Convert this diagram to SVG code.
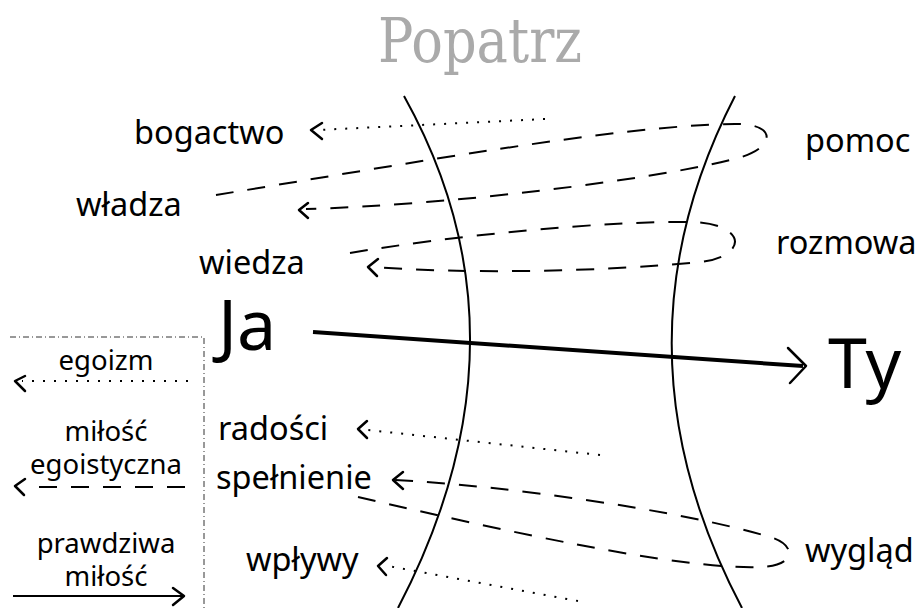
<svg xmlns="http://www.w3.org/2000/svg" width="921" height="608" viewBox="0 0 921 608">
  <style>
    .lbl { font-family: "Noto Sans", "Open Sans", sans-serif; font-size: 32.5px; fill: #000; }
    .big { font-family: "Noto Sans", "Open Sans", sans-serif; font-size: 70px; fill: #000; }
    .leg { font-family: "Noto Sans", "Open Sans", sans-serif; font-size: 27.5px; fill: #000; text-anchor: middle; }
    .title { font-family: "DejaVu Serif", "Liberation Serif", serif; font-size: 62px; fill: #aaaaaa; text-anchor: middle; }
    .wall { fill: none; stroke: #000; stroke-width: 2; }
    .dot { fill: none; stroke: #000; stroke-width: 2; stroke-dasharray: 2 9; }
    .dash { fill: none; stroke: #000; stroke-width: 2; stroke-dasharray: 18 14; }
    .solid { fill: none; stroke: #000; stroke-width: 2; }
    .head { fill: none; stroke: #000; stroke-width: 2.5; stroke-linecap: round; stroke-linejoin: round; }
    .frame { fill: none; stroke: #333; stroke-width: 1; stroke-dasharray: 6 3 1 3; }
  </style>

  <text class="title" x="480" y="62" textLength="204" lengthAdjust="spacingAndGlyphs">Popatrz</text>

  <!-- the two bent walls between Ja and Ty -->
  <g id="walls">
    <path class="wall" d="M404,96 Q539,338 398,608"/>
    <path class="wall" d="M735,96 Q605,348 742,608"/>
  </g>

  <g id="nodes">
    <g id="bogactwo"><text class="lbl" x="134" y="144">bogactwo</text></g>
    <g id="wladza"><text class="lbl" x="76" y="216">władza</text></g>
    <g id="wiedza"><text class="lbl" x="199" y="274">wiedza</text></g>
    <g id="pomoc"><text class="lbl" x="805" y="152">pomoc</text></g>
    <g id="rozmowa"><text class="lbl" x="776" y="254">rozmowa</text></g>
    <g id="ja"><text class="big" x="218" y="350">Ja</text></g>
    <g id="ty"><text class="big" x="828" y="388">Ty</text></g>
    <g id="radosci"><text class="lbl" x="218" y="440">radości</text></g>
    <g id="spelnienie"><text class="lbl" x="216" y="489">spełnienie</text></g>
    <g id="wplywy"><text class="lbl" x="246" y="571">wpływy</text></g>
    <g id="wyglad"><text class="lbl" x="805" y="562">wygląd</text></g>
  </g>

  <g id="connectors">
    <!-- Ja -> Ty -->
    <path fill="none" stroke="#000" stroke-width="4" d="M313,332 L803,366"/>
    <path class="head" stroke-width="4" d="M788,348 L806,366 L790,383"/>

    <!-- bogactwo (dotted) -->
    <path class="dot" d="M545,119 L318,130"/>
    <path class="head" d="M322,123 L311,130 L322,139"/>

    <!-- wladza -> pomoc -> back -->
    <path class="dash" d="M216,195 C400,165 620,125 735,124 C778,123 778,150 730,160 C650,180 450,205 306,209"/>
    <path class="head" d="M308,203 L299,210 L308,218"/>

    <!-- wiedza -> rozmowa -> back -->
    <path class="dash" d="M350,253 C450,236 600,221 690,222 C748,223 748,257 700,262 C600,272 460,274 376,267"/>
    <path class="head" d="M378,259 L368,267 L377,276"/>

    <!-- radosci (dotted) -->
    <path class="dot" d="M600,455 L368,430"/>
    <path class="head" d="M367,421 L358,429 L367,438"/>

    <!-- spelnienie -> wyglad -> back -->
    <path class="dash" d="M358,497 C500,530 680,570 760,567 C797,566 797,545 770,537 C680,510 500,485 394,480"/>
    <path class="head" d="M403,472 L393,480 L403,489"/>

    <!-- wplywy (dotted) -->
    <path class="dot" d="M578,601 L388,566"/>
    <path class="head" d="M387,558 L378,566 L386,575"/>
  </g>

  <!-- key -->
  <g id="legend">
    <path class="frame" d="M10,337 H204 V608"/>
    <text class="leg" x="106" y="370">egoizm</text>
    <path class="dot" d="M188,381 L22,381"/>
    <path class="head" d="M25,376 L15,381 L25,391"/>
    <text class="leg" x="106" y="441">miłość</text>
    <text class="leg" x="106" y="474">egoistyczna</text>
    <path class="dash" d="M185,487 L28,487"/>
    <path class="head" d="M25,479 L15,486 L24,495"/>
    <text class="leg" x="106" y="553">prawdziwa</text>
    <text class="leg" x="106" y="586">miłość</text>
    <path class="solid" d="M13,596 L184,596"/>
    <path class="head" d="M173,588 L184,596 L173,605"/>
  </g>
</svg>
